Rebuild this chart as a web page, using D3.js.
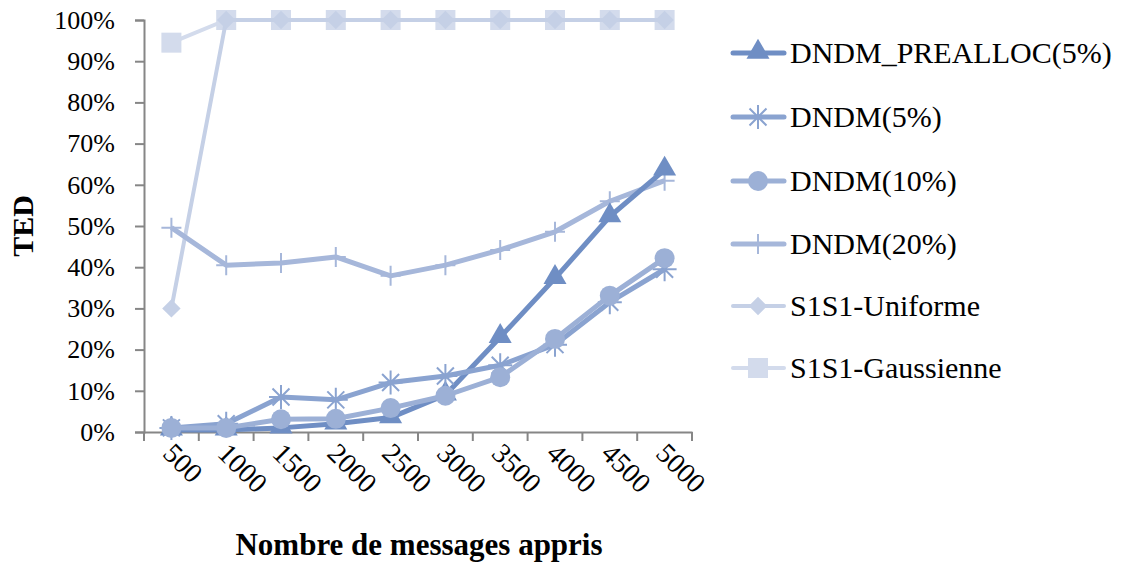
<!doctype html>
<html>
<head>
<meta charset="UTF-8">
<script src="https://d3js.org/d3.v7.min.js"></script>
<style>
  body { margin: 0; background: #fff; }
  text { font-family: "Liberation Serif", "DejaVu Serif", serif; fill: #000; }
</style>
</head>
<body>
<svg id="chart" width="1125" height="566"></svg>
<script>
// données (en %)
var categories = [500, 1000, 1500, 2000, 2500, 3000, 3500, 4000, 4500, 5000];
var yTicks = [0, 10, 20, 30, 40, 50, 60, 70, 80, 90, 100];
var seriesNames = ["DNDM_PREALLOC(5%)", "DNDM(5%)", "DNDM(10%)", "DNDM(20%)", "S1S1-Uniforme", "S1S1-Gaussienne"];
var preAlloc5 = [0.5, 0.5, 1, 2, 3.5, 9, 23, 37.3, 52.3, 63.6];
var dndm5 = [1, 2, 8.5, 7.8, 12, 13.6, 16.2, 21.2, 31.5, 39.5];
var dndm10 = [1, 1, 3.1, 3.2, 5.8, 8.8, 13.3, 22.6, 33.1, 42.2];
var dndm20 = [49.6, 40.5, 41, 42.5, 37.9, 40.5, 44.2, 48.6, 56, 61];
var uniforme = [30, 100, 100, 100, 100, 100, 100, 100, 100, 100];
var gaussienne = [94.5, 100, 100, 100, 100, 100, 100, 100, 100, 100];

var seriesData = [preAlloc5, dndm5, dndm10, dndm20, uniforme, gaussienne];
var colors = ["#6f8ec4", "#8aa3d0", "#9cb0d6", "#a6b7da", "#c5d0e6", "#d3dbec"];
var widths = [5, 5, 5, 5, 4, 4];
var symbols = ["triangle", "star", "circle", "plus", "diamond", "square"];

var svg = d3.select("#chart");
var mLeft = 144, mRight = 692, mTop = 20, mBottom = 432;

var x = d3.scaleBand().domain(categories).range([mLeft, mRight]);
var y = d3.scaleLinear().domain([0, 100]).range([mBottom, mTop]);

// axe Y
var yAxis = d3.axisLeft(y).tickValues(yTicks).tickSize(9).tickPadding(20)
  .tickFormat(function (d) { return d + "%"; });
var gy = svg.append("g").attr("transform", "translate(" + mLeft + ",0)").call(yAxis);
gy.select(".domain").attr("stroke", "#868686").attr("stroke-width", 2);
gy.selectAll(".tick line").attr("stroke", "#868686").attr("stroke-width", 2);
gy.selectAll(".tick text").attr("font-size", 26).attr("font-family", "Liberation Serif").attr("fill", "#000");

// axe X
var xAxis = d3.axisBottom(x).tickSize(0).tickFormat("");
var gx = svg.append("g").attr("transform", "translate(0," + mBottom + ")").call(xAxis);
gx.select(".domain").attr("stroke", "#868686").attr("stroke-width", 2);
gx.selectAll(".sep").data(d3.range(categories.length + 1)).enter().append("line")
  .attr("x1", function (i) { return mLeft + i * x.step(); })
  .attr("x2", function (i) { return mLeft + i * x.step(); })
  .attr("y1", 0).attr("y2", 9)
  .attr("stroke", "#868686").attr("stroke-width", 2);
gx.selectAll(".lab").data(categories).enter().append("text")
  .attr("transform", function (d) {
    return "translate(" + (x(d) + x.bandwidth() / 2 - 10) + ",23) rotate(45)";
  })
  .attr("text-anchor", "start")
  .attr("font-size", 28)
  .text(function (d) { return d; });

// titres
svg.append("text")
  .attr("transform", "translate(33," + ((mTop + mBottom) / 2) + ") rotate(-90)")
  .attr("text-anchor", "middle").attr("font-size", 30).attr("font-weight", "bold")
  .text("TED");
svg.append("text")
  .attr("x", 419).attr("y", 555)
  .attr("text-anchor", "middle").attr("font-size", 31).attr("font-weight", "bold")
  .text("Nombre de messages appris");

function marker(g, sym, cx, cy, col) {
  if (sym === "triangle") {
    g.append("path").attr("d", d3.symbol(d3.symbolTriangle, 230)()).attr("transform", "translate(" + cx + "," + (cy - 1) + ")").attr("fill", col);
  } else if (sym === "circle") {
    g.append("circle").attr("cx", cx).attr("cy", cy).attr("r", 10).attr("fill", col);
  } else if (sym === "diamond") {
    g.append("path").attr("d", d3.symbol(d3.symbolSquare, 170)()).attr("transform", "translate(" + cx + "," + cy + ") rotate(45)").attr("fill", col);
  } else if (sym === "square") {
    g.append("rect").attr("x", cx - 10).attr("y", cy - 10).attr("width", 20).attr("height", 20).attr("fill", col);
  } else if (sym === "star") {
    var p = "";
    [0, 45, 90, 135].forEach(function (a) {
      var r = 12, dx = r * Math.cos(a * Math.PI / 180), dy = r * Math.sin(a * Math.PI / 180);
      p += "M" + (cx - dx) + "," + (cy - dy) + "L" + (cx + dx) + "," + (cy + dy);
    });
    g.append("path").attr("d", p).attr("stroke", col).attr("stroke-width", 2).attr("fill", "none");
  } else if (sym === "plus") {
    g.append("path").attr("d", "M" + (cx - 10) + "," + cy + "L" + (cx + 10) + "," + cy + "M" + cx + "," + (cy - 10) + "L" + cx + "," + (cy + 10))
      .attr("stroke", col).attr("stroke-width", 2);
  }
}

var line = d3.line()
  .x(function (d, i) { return x(categories[i]) + x.bandwidth() / 2; })
  .y(function (d) { return y(d); });

// ordre de dessin : les séries claires d'abord
var order = [5, 4, 3, 0, 1, 2];
order.forEach(function (k) {
  var g = svg.append("g");
  g.append("path").datum(seriesData[k]).attr("d", line)
    .attr("fill", "none").attr("stroke", colors[k]).attr("stroke-width", widths[k])
    .attr("stroke-linejoin", "round");
  seriesData[k].forEach(function (v, i) {
    marker(g, symbols[k], x(categories[i]) + x.bandwidth() / 2, y(v), colors[k]);
  });
});

// légende
var legY = [53, 117, 181, 244, 306, 368];
seriesNames.forEach(function (name, k) {
  var g = svg.append("g");
  g.append("line").attr("x1", 733).attr("x2", 784).attr("y1", legY[k]).attr("y2", legY[k])
    .attr("stroke", colors[k]).attr("stroke-width", widths[k]).attr("stroke-linecap", "round");
  marker(g, symbols[k], 758, legY[k], colors[k]);
  g.append("text").attr("x", 790).attr("y", legY[k] + 10).attr("font-size", 30).text(name);
});
</script>
</body>
</html>
